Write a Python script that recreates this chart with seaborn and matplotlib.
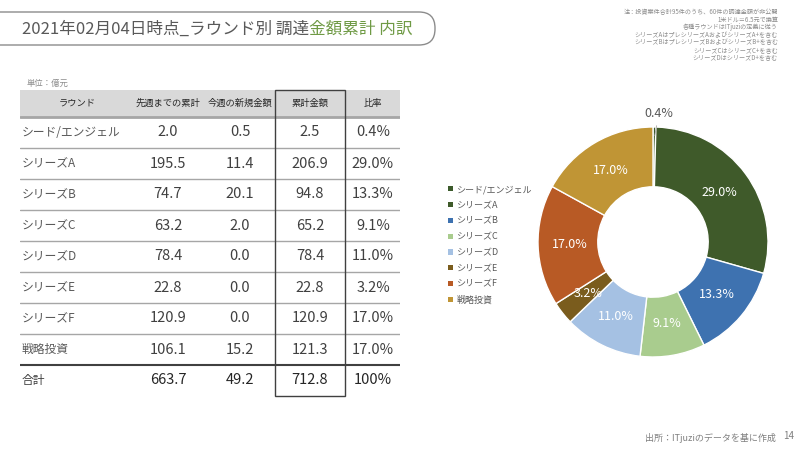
import numpy as np
import pandas as pd
import seaborn as sns
import matplotlib.pyplot as plt
from matplotlib.patches import FancyBboxPatch, Rectangle, Patch

# data
rounds = ['シード/エンジェル', 'シリーズA', 'シリーズB', 'シリーズC', 'シリーズD',
          'シリーズE', 'シリーズF', '戦略投資']
prev_total = [2.0, 195.5, 74.7, 63.2, 78.4, 22.8, 120.9, 106.1]
new_amount = [0.5, 11.4, 20.1, 2.0, 0.0, 0.0, 0.0, 15.2]
cum_amount = [2.5, 206.9, 94.8, 65.2, 78.4, 22.8, 120.9, 121.3]
share_pct = [0.4, 29.0, 13.3, 9.1, 11.0, 3.2, 17.0, 17.0]
sum_row = ['合計', '663.7', '49.2', '712.8', '100%']
headers = ['ラウンド', '先週までの累計', '今週の新規金額', '累計金額', '比率']
round_colors = ['#3b5a2b', '#3f5a2a', '#3e72b0', '#a9cc8e', '#a5c1e3',
                '#7a5c1d', '#b85a25', '#c09535']
notes = ['注：投資案件合計95件のうち、60件の調達金額が非公開',
         '1米ドル＝6.5元で換算',
         '各種ラウンドはITjuziの定義に従う',
         'シリーズAはプレシリーズAおよびシリーズA+を含む',
         'シリーズBはプレシリーズBおよびシリーズB+を含む',
         'シリーズCはシリーズC+を含む',
         'シリーズDはシリーズD+を含む']

sns.set_theme(style='white')
plt.rcParams['font.family'] = ['Noto Sans CJK JP', 'DejaVu Sans']
palette = sns.color_palette(round_colors)

fig = plt.figure(figsize=(8, 4.5), dpi=100)

# pixel overlay for title, notes, footer
bg = fig.add_axes([0, 0, 1, 1])
bg.set_xlim(0, 800)
bg.set_ylim(450, 0)
bg.axis('off')
bg.add_patch(FancyBboxPatch((-40, 12), 475, 33, boxstyle='round,pad=0,rounding_size=16',
                            fc='white', ec='#8c8c8c', lw=1))
t1 = bg.text(22, 29, '2021年02月04日時点_ラウンド別 調達', fontsize=12, color='#595959',
             va='center', ha='left')
bg.annotate('金額累計 内訳', xy=(1, 0.5), xycoords=t1, va='center', ha='left',
            fontsize=12, color='#6f9a45')
for i, line in enumerate(notes):
    bg.text(778, 14 + i * 7.6, line, fontsize=4.4, color='#8c8c8c', ha='right',
            va='baseline')
bg.text(27, 83, '単位：億元', fontsize=6, color='#8c8c8c', va='center')
bg.text(776, 438, '出所：ITjuziのデータを基に作成', fontsize=6.5, color='#7f7f7f',
        ha='right', va='center')
bg.text(789, 436, '14', fontsize=7, color='#7f7f7f', ha='center', va='center')

# table
tab = fig.add_axes([20 / 800, (450 - 396) / 450, 380 / 800, 306 / 450])
tab.set_xlim(0, 380)
hdr_h = 27 / 31
tab.set_ylim(len(rounds) + 1, -hdr_h)
tab.axis('off')
col_x = [2, 148, 220, 290, 353]
col_left = [0, 115, 185, 255, 325, 380]
tab.add_patch(Rectangle((0, -hdr_h), 380, hdr_h, fc='#d9d9d9', ec='none', zorder=0))
hdr_x = [57, 148, 220, 290, 353]
for x, h in zip(hdr_x, headers):
    tab.text(x, -hdr_h / 2, h, fontsize=6.7, ha='center', va='center', color='#262626')
tab.plot([0, 380], [0, 0], color='#a6a6a6', lw=2, zorder=1)
rows = pd.DataFrame({'round': rounds, 'prev': prev_total, 'new': new_amount,
                     'cum': cum_amount, 'pct': share_pct})
for i, r in rows.iterrows():
    y = i + 0.5
    tab.text(col_x[0], y, r['round'], fontsize=8.5, color='#595959', va='center')
    vals = [f"{r['prev']:.1f}", f"{r['new']:.1f}", f"{r['cum']:.1f}", f"{r['pct']:.1f}%"]
    for x, v in zip(col_x[1:], vals):
        tab.text(x, y, v, fontsize=10.5, color='#404040', ha='center', va='center')
    if i < len(rounds) - 1:
        tab.plot([0, 380], [i + 1, i + 1], color='#a6a6a6', lw=1)
y = len(rounds) + 0.5
tab.text(col_x[0], y, sum_row[0], fontsize=8.5, color='#404040', va='center')
for x, v in zip(col_x[1:], sum_row[1:]):
    tab.text(x, y, v, fontsize=10.5, color='#262626', ha='center', va='center')
tab.plot([0, 380], [len(rounds), len(rounds)], color='#404040', lw=1.5)
tab.add_patch(Rectangle((col_left[3], -hdr_h), col_left[4] - col_left[3],
                        len(rounds) + 1 + hdr_h, fc='none', ec='#404040', lw=1,
                        clip_on=False, zorder=3))

# donut
ax = fig.add_axes([515 / 800, 70 / 450, 276 / 800, 276 / 450])
wedges, _ = ax.pie(share_pct, colors=palette, startangle=90, counterclock=False,
                   radius=1, wedgeprops=dict(width=0.52, edgecolor='white', linewidth=1))
ax.set_xlim(-1.2, 1.2)
ax.set_ylim(-1.2, 1.2)
ax.set_aspect('equal')
for w, p in zip(wedges, share_pct):
    mid = np.deg2rad((w.theta1 + w.theta2) / 2)
    if p < 1:
        ax.annotate(f'{p:.1f}%', xy=(0.9 * np.cos(mid), 0.9 * np.sin(mid)),
                    xytext=(0.05, 1.12), ha='center', va='center', fontsize=9,
                    color='#595959', arrowprops=dict(arrowstyle='-', color='#a6a6a6', lw=0.6))
    else:
        ax.text(0.72 * np.cos(mid), 0.72 * np.sin(mid), f'{p:.1f}%', ha='center',
                va='center', fontsize=9, color='white')

handles = [Patch(fc=c, ec='none') for c in palette]
fig.legend(handles, rounds, loc='upper left', bbox_to_anchor=(440 / 800, 1 - 177 / 450),
           frameon=False, fontsize=6.5, handlelength=0.5, handleheight=0.5,
           handletextpad=0.4, labelspacing=0.75, labelcolor='#595959')

fig.savefig('out.png', dpi=100)
